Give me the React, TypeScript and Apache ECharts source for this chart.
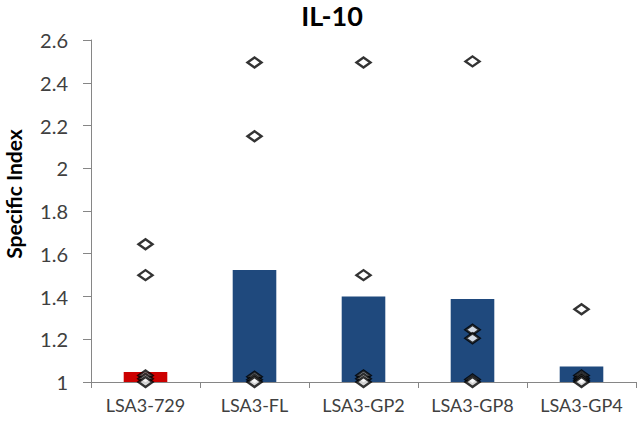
import React, { useEffect, useRef } from "react";
import * as echarts from "echarts";

const categories = ["LSA3-729", "LSA3-FL", "LSA3-GP2", "LSA3-GP8", "LSA3-GP4"];
const barValues = [1.047, 1.524, 1.4, 1.388, 1.072];
const barColors = ["#CC0000", "#1F497D", "#1F497D", "#1F497D", "#1F497D"];
// individual points per group
const points729 = [1.645, 1.5, 1.03, 1.015, 1.0];
const pointsFL = [2.495, 2.15, 1.025, 1.01, 1.0];
const pointsGP2 = [2.495, 1.5, 1.03, 1.015, 1.0];
const pointsGP8 = [2.5, 1.245, 1.205, 1.012, 1.0];
const pointsGP4 = [1.34, 1.03, 1.018, 1.008, 1.0];
const yTicks = { min: 1, max: 2.6, interval: 0.2 };

const FONT = "Lato, 'Open Sans', sans-serif";

export default function App() {
  const ref = useRef<HTMLDivElement>(null);
  useEffect(() => {
    if (!ref.current) return;
    const chart = echarts.init(ref.current, null, { renderer: "svg" });
    const groups = [points729, pointsFL, pointsGP2, pointsGP8, pointsGP4];
    const scatterData: [number, number][] = [];
    groups.forEach((g, i) => g.forEach((v) => scatterData.push([i, v])));
    chart.setOption({
      animation: false,
      title: {
        text: "IL-10",
        left: 327,
        textAlign: "center",
        top: -3,
        textStyle: { fontFamily: FONT, fontSize: 27, fontWeight: "bold", color: "#000" },
      },
      graphic: [
        {
          type: "text",
          x: 13,
          y: 194,
          rotation: Math.PI / 2,
          style: {
            text: "Specific Index",
            fontFamily: FONT,
            fontSize: 21,
            fontWeight: "bold",
            fill: "#000",
            textAlign: "center",
            textVerticalAlign: "middle",
          },
        },
      ],
      grid: { left: 91, right: 5, top: 40, bottom: 40, containLabel: false },
      xAxis: {
        type: "category",
        data: categories,
        boundaryGap: true,
        axisLine: { lineStyle: { color: "#868686", width: 1 } },
        axisTick: { show: true, length: 6, lineStyle: { color: "#868686" } },
        axisLabel: { fontFamily: FONT, fontSize: 18, color: "#404040", margin: 14, interval: 0 },
      },
      yAxis: {
        type: "value",
        min: yTicks.min,
        max: yTicks.max,
        interval: yTicks.interval,
        axisLine: { show: true, lineStyle: { color: "#868686", width: 1 } },
        axisTick: { show: true, length: 8, lineStyle: { color: "#868686" } },
        splitLine: { show: false },
        axisLabel: { fontFamily: FONT, fontSize: 20, color: "#404040", margin: 23 },
      },
      series: [
        {
          type: "bar",
          data: barValues.map((v, i) => ({ value: v, itemStyle: { color: barColors[i] } })),
          barWidth: "40%",
          z: 1,
        },
        {
          type: "scatter",
          data: scatterData,
          symbol: "diamond",
          symbolSize: [14, 10],
          itemStyle: { color: "#ffffff", borderColor: "#000000", borderWidth: 2.5 },
          z: 5,
        },
      ],
    });
    return () => chart.dispose();
  }, []);
  return <div ref={ref} style={{ width: 641, height: 422, position: "absolute", left: 0, top: 0 }} />;
}
